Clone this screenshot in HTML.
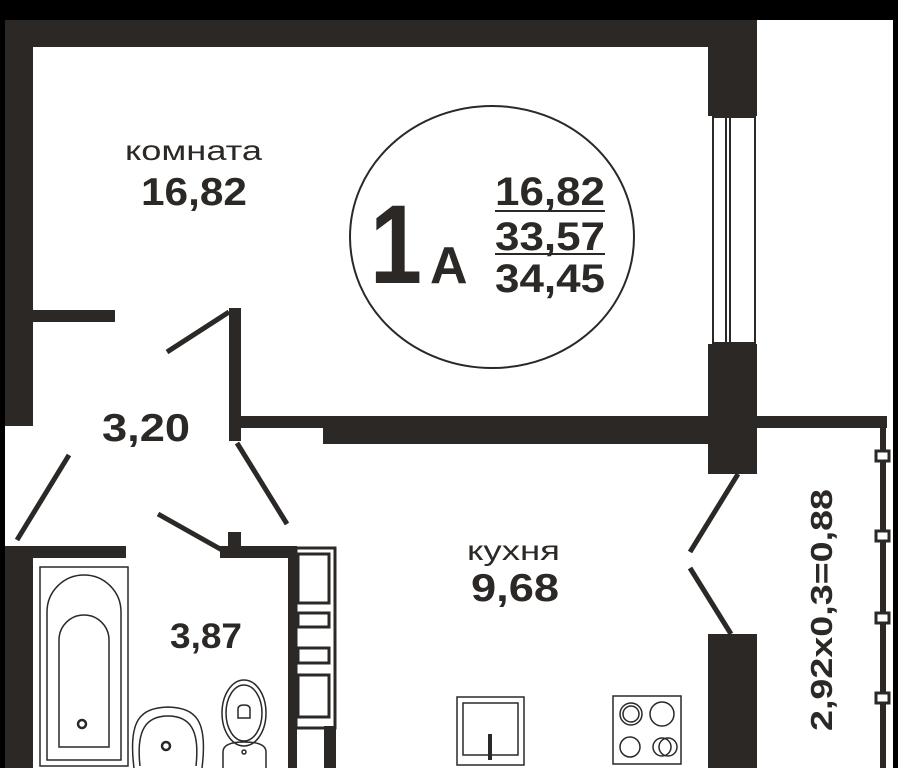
<!DOCTYPE html>
<html><head><meta charset="utf-8"><style>
html,body{margin:0;padding:0;background:#000;width:898px;height:768px;overflow:hidden}
svg{display:block}
text{font-family:"Liberation Sans","DejaVu Sans",sans-serif;fill:#2b2826}
</style></head><body>
<svg width="898" height="768" viewBox="0 0 898 768" xmlns="http://www.w3.org/2000/svg">
<rect x="0" y="0" width="898" height="768" fill="#000"/>
<rect x="5" y="20" width="888" height="748" fill="#fff"/>
<g fill="#2b2826">
<rect x="5" y="20" width="752" height="27"/>
<rect x="5" y="20" width="28" height="406"/>
<rect x="5" y="546" width="28" height="222"/>
<rect x="708" y="20" width="49" height="96"/>
<rect x="708" y="344" width="49" height="130"/>
<rect x="708" y="634" width="49" height="134"/>
<rect x="33" y="310" width="82" height="12"/>
<rect x="229" y="308" width="12" height="133"/>
<rect x="240" y="416" width="468" height="12"/>
<rect x="323" y="416" width="385" height="28"/>
<rect x="756" y="416" width="131" height="12"/>
<rect x="5" y="546" width="121" height="12"/>
<rect x="220" y="546" width="75" height="12"/>
<rect x="228" y="532" width="13" height="16"/>
<rect x="288" y="546" width="9" height="222"/>
<rect x="324" y="726" width="12" height="42"/>
<rect x="880" y="416" width="6" height="352"/>
</g>
<g fill="none" stroke="#2b2826" stroke-width="2">
<rect x="713" y="117" width="42" height="226"/>
<line x1="726" y1="117" x2="726" y2="343"/>
<line x1="730" y1="117" x2="730" y2="343"/>
</g>
<g fill="#fff" stroke="#2b2826" stroke-width="3">
<rect x="876" y="451" width="13" height="10"/>
<rect x="876" y="531" width="13" height="10"/>
<rect x="876" y="613" width="13" height="10"/>
<rect x="876" y="693" width="13" height="10"/>
</g>
<g stroke="#2b2826" stroke-width="5" stroke-linecap="butt">
<line x1="167" y1="352" x2="229" y2="312"/>
<line x1="69" y1="455" x2="17" y2="540"/>
<line x1="237" y1="443" x2="287" y2="524"/>
<line x1="158" y1="514" x2="222" y2="550"/>
<line x1="738" y1="474" x2="690" y2="552"/>
<line x1="690" y1="568" x2="731" y2="634"/>
</g>
<g fill="none" stroke="#2b2826" stroke-width="3">
<rect x="296" y="548" width="39" height="180"/>
<rect x="298" y="554" width="31" height="49"/>
<rect x="298" y="613" width="31" height="14"/>
<rect x="298" y="648" width="31" height="15"/>
<rect x="298" y="675" width="31" height="42"/>
</g>
<g fill="none" stroke="#2b2826" stroke-width="1.5">
<rect x="40" y="567" width="88" height="199"/>
<path d="M47 760 V612 A37 37 0 0 1 121 612 V760 Z"/>
<path d="M59 747 V640 A25 25 0 0 1 109 640 V747 Z"/>
<circle cx="82" cy="724" r="4" stroke-width="2.5"/>
<path d="M134 768 C128 720 140 708 168 707 C196 708 208 720 202 768"/>
<path d="M140 766 C136 730 146 716 168 716 C190 716 200 730 196 766"/>
<circle cx="166" cy="746" r="4" stroke-width="2.5"/>
<ellipse cx="244" cy="713" rx="22" ry="33"/>
<ellipse cx="244" cy="713" rx="18" ry="28"/>
<path d="M223 768 V752 Q223 742 244 742 Q266 742 266 752 V768"/>
<path d="M238 718 V709 Q238 705 244 705 Q250 705 250 709 V718 Z"/>
<circle cx="244" cy="752" r="2"/>
</g>
<g fill="none" stroke="#2b2826" stroke-width="1.5">
<rect x="457" y="697" width="67" height="68"/>
<rect x="463" y="703" width="55" height="52"/>
<line x1="490" y1="734" x2="490" y2="760" stroke-width="4"/>
<rect x="613" y="696" width="68" height="68"/>
<circle cx="631" cy="714" r="11"/>
<circle cx="631" cy="714" r="8"/>
<circle cx="662" cy="714" r="12"/>
<circle cx="630" cy="747" r="10"/>
<circle cx="662" cy="747" r="9"/>
<circle cx="668" cy="747" r="9"/>
</g>
<ellipse cx="492" cy="237" rx="142" ry="131" fill="none" stroke="#2b2826" stroke-width="2"/>
<text x="370" y="283" font-size="112" font-weight="bold" textLength="52" lengthAdjust="spacingAndGlyphs">1</text>
<text x="430" y="283" font-size="52" font-weight="bold">А</text>
<text x="495" y="205" font-size="40" font-weight="bold" textLength="110" lengthAdjust="spacingAndGlyphs">16,82</text>
<line x1="495" y1="211" x2="605" y2="211" stroke="#2b2826" stroke-width="2"/>
<text x="495" y="250" font-size="40" font-weight="bold" textLength="110" lengthAdjust="spacingAndGlyphs">33,57</text>
<line x1="495" y1="254" x2="605" y2="254" stroke="#2b2826" stroke-width="2"/>
<text x="495" y="292" font-size="40" font-weight="bold" textLength="110" lengthAdjust="spacingAndGlyphs">34,45</text>
<text x="125" y="160" font-size="28" textLength="137" lengthAdjust="spacingAndGlyphs">комната</text>
<text x="141" y="205" font-size="39" font-weight="bold" textLength="106" lengthAdjust="spacingAndGlyphs">16,82</text>
<text x="102" y="441" font-size="39" font-weight="bold" textLength="88" lengthAdjust="spacingAndGlyphs">3,20</text>
<text x="170" y="648" font-size="35" font-weight="bold" textLength="72" lengthAdjust="spacingAndGlyphs">3,87</text>
<text x="467" y="560" font-size="28" textLength="93" lengthAdjust="spacingAndGlyphs">кухня</text>
<text x="471" y="601" font-size="39" font-weight="bold" textLength="88" lengthAdjust="spacingAndGlyphs">9,68</text>
<text transform="translate(832,731) rotate(-90)" font-size="31" font-weight="bold" textLength="242" lengthAdjust="spacingAndGlyphs">2,92х0,3=0,88</text>
</svg>
</body></html>
